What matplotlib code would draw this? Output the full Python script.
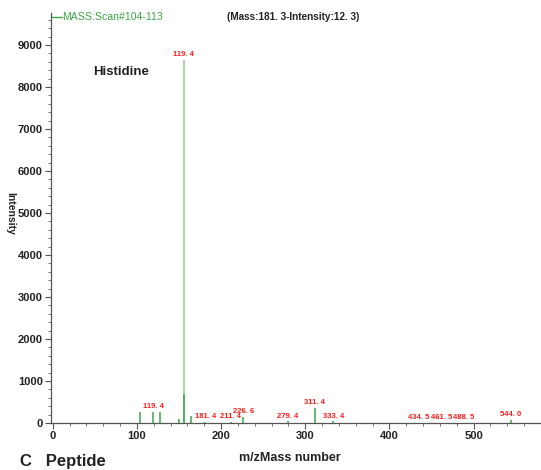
import matplotlib
matplotlib.use("Agg")
import matplotlib.pyplot as plt
from matplotlib.lines import Line2D
from matplotlib.ticker import MultipleLocator

plt.rcParams['font.family'] = ['Liberation Sans', 'DejaVu Sans']

# ---- data ----
main_mz = [155.4]
main_int = [8650]
main_label = ["119. 4"]

peak_mz = [104.0, 119.4, 128.0, 150.5, 155.6, 164.0, 181.4, 211.4, 226.6,
           279.4, 311.4, 333.4, 434.5, 461.5, 488.5, 544.0]
peak_int = [250, 270, 250, 90, 700, 170, 20, 20, 150,
            40, 360, 40, 10, 10, 10, 70]
peak_label = ["", "119. 4", "", "", "", "", "181. 4", "211. 4", "226. 6",
              "279. 4", "311. 4", "333. 4", "434. 5", "461. 5", "488. 5", "544. 0"]

x_ticks = [0, 100, 200, 300, 400, 500]
y_ticks = [0, 1000, 2000, 3000, 4000, 5000, 6000, 7000, 8000, 9000]

W, H = 541, 470
fig = plt.figure(figsize=(W / 100, H / 100), dpi=100)
fig.patch.set_facecolor('white')
ax = fig.add_axes([51 / W, 1 - 423 / H, 1 - 51 / W, (423 - 13) / H])

light_green = '#a6d9a6'
dark_green = '#3aa64a'
red = '#ff1a1a'

ax.vlines(main_mz, 0, main_int, colors=light_green, linewidth=1.4)
ax.vlines(peak_mz, 0, peak_int, colors=dark_green, linewidth=1.1)

for x, y, t in zip(main_mz + peak_mz, main_int + peak_int, main_label + peak_label):
    if t:
        ax.annotate(t, (x, y), xytext=(0, 1.2), textcoords='offset points',
                    ha='center', va='bottom', color=red, fontsize=5.5,
                    fontweight='bold')

ax.set_xlim(-2, 580)
ax.set_ylim(0, 9760)
ax.set_xticks(x_ticks)
ax.set_yticks(y_ticks)
ax.xaxis.set_minor_locator(MultipleLocator(20))
ax.yaxis.set_minor_locator(MultipleLocator(200))
ax.tick_params(axis='both', which='major', length=4, width=0.8, color='#555555',
               labelsize=8, pad=2)
ax.tick_params(axis='both', which='minor', length=2.5, width=0.7, color='#777777')
for lab in ax.get_xticklabels() + ax.get_yticklabels():
    lab.set_fontweight('bold')
    lab.set_color('#222222')

for s in ['top', 'right']:
    ax.spines[s].set_visible(False)
for s in ['left', 'bottom']:
    ax.spines[s].set_color('#555555')
    ax.spines[s].set_linewidth(0.9)

ax.set_facecolor('white')

fig.text(10 / W, 1 - 213 / H, "Intensity", rotation=270, ha='center', va='center',
         fontsize=7.5, fontweight='bold', color='#222222')
fig.text(290 / W, 1 - 458 / H, "m/zMass number", ha='center', va='center',
         fontsize=9, fontweight='bold', color='#222222')
ax.text(93 / W, 1 - 72 / H, "Histidine", transform=fig.transFigure, ha='left',
        va='center', fontsize=9.5, fontweight='bold', color='#222222')

fig.add_artist(Line2D([52 / W, 62 / W], [1 - 16.5 / H, 1 - 16.5 / H],
                      color=dark_green, linewidth=1.0))
fig.text(62 / W, 1 - 16.5 / H, "MASS:Scan#104-113", ha='left', va='center',
         fontsize=7.6, color=dark_green)
fig.text(227 / W, 1 - 17 / H, "(Mass:181. 3-Intensity:12. 3)", ha='left',
         va='center', fontsize=7.2, fontweight='bold', color='#222222')

fig.text(20 / W, 1 - 469 / H, "C   Peptide", ha='left', va='bottom',
         fontsize=12, fontweight='bold', color='#222222')

fig.savefig("out.png", dpi=100)
